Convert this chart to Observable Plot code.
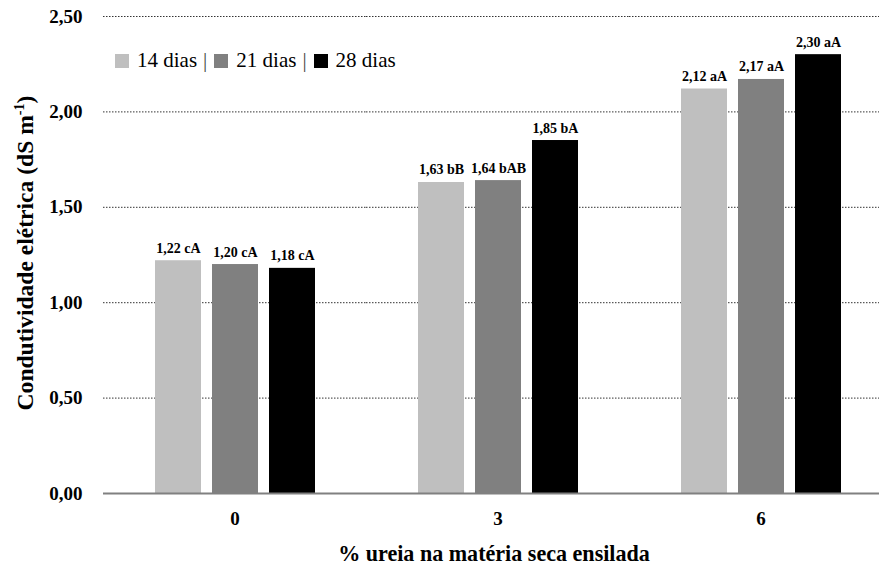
<!DOCTYPE html>
<html>
<head>
<meta charset="utf-8">
<script src="https://cdn.jsdelivr.net/npm/d3@7"></script>
<script src="https://cdn.jsdelivr.net/npm/@observablehq/plot@0.6"></script>
<style>
  body { margin: 0; background: #fff; }
  #wrap { position: relative; width: 879px; height: 565px; }
  #wrap, #wrap svg, #wrap svg text, #legend { font-family: "Liberation Serif", "Times New Roman", serif; }
  #wrap svg text { font-weight: bold; }
  #legend { position: absolute; left: 115px; top: 48px; font-size: 21px; color: #000; display: flex; align-items: center; white-space: nowrap; }
  #legend .sw { display: inline-block; width: 14px; height: 14px; margin-right: 8px; }
  #legend .sep { margin: 0 7px 0 6px; color: #444; }
</style>
</head>
<body>
<div id="wrap"><div id="legend"></div></div>
<script>
const groups = ["0", "3", "6"];
const series = ["14 dias", "21 dias", "28 dias"];
const colors = ["#bfbfbf", "#808080", "#000000"];
const v14 = [1.22, 1.63, 2.12];
const v21 = [1.20, 1.64, 2.17];
const v28 = [1.18, 1.85, 2.30];
const l14 = ["cA", "bB", "aA"];
const l21 = ["cA", "bAB", "aA"];
const l28 = ["cA", "bA", "aA"];
const yTicks = [0, 0.5, 1, 1.5, 2, 2.5];

const vals = [v14, v21, v28];
const lets = [l14, l21, l28];
const rows = [];
groups.forEach((g, gi) => series.forEach((s, si) => rows.push({group: g, series: s, value: vals[si][gi], letter: lets[si][gi]})));
const fmt = v => v.toFixed(2).replace(".", ",");

const chart = Plot.plot({
  width: 879,
  height: 565,
  marginTop: 16,
  marginBottom: 72,
  marginLeft: 102,
  marginRight: -13,
  style: {background: "#fff", overflow: "hidden"},
  fx: {domain: groups, padding: 0},
  x: {domain: series, paddingInner: 0.2, paddingOuter: 0.87, axis: null},
  y: {domain: [0, 2.5]},
  color: {domain: series, range: colors},
  marks: [
    Plot.gridY(yTicks.slice(1), {stroke: "#333", strokeOpacity: 1, strokeDasharray: "1.5,1.5", strokeWidth: 1}),
    Plot.barY(rows, {fx: "group", x: "series", y: "value", fill: "series"}),
    Plot.ruleY([0], {stroke: "#808080", strokeWidth: 2}),
    Plot.text(rows, {fx: "group", x: "series", y: "value", text: d => fmt(d.value) + " " + d.letter, dy: -8, lineAnchor: "bottom", fontSize: 14, fill: "#000"}),
    Plot.axisY(yTicks, {tickSize: 0, tickPadding: 21, fontSize: 19, tickFormat: fmt, label: null, fill: "#000"}),
    Plot.axisFx({anchor: "bottom", tickSize: 0, tickPadding: 18, fontSize: 19, label: null, fill: "#000"})
  ]
});

const wrap = document.getElementById("wrap");
wrap.insertBefore(chart, wrap.firstChild);

const svg = d3.select(chart);

function fit(sel, target, base) {
  const len = sel.node().getComputedTextLength();
  if (len > 0) {
    const f = base * target / len;
    sel.attr("font-size", f);
    sel.selectAll("tspan.sup").attr("font-size", f * 0.6).attr("dy", -f * 0.38);
    sel.selectAll("tspan.back").attr("dy", f * 0.38);
  }
}

const yl = svg.append("text")
  .attr("transform", "translate(33,253) rotate(-90)")
  .attr("text-anchor", "middle")
  .attr("font-size", 20)
  .attr("font-weight", "bold")
  .attr("fill", "#000");
yl.append("tspan").text("Condutividade elétrica (dS m");
yl.append("tspan").attr("class", "sup").attr("font-size", 12).attr("dy", -7.6).text("-1");
yl.append("tspan").attr("class", "back").attr("dy", 7.6).text(")");
fit(yl, 315, 20);

const xl = svg.append("text")
  .attr("x", 494).attr("y", 561)
  .attr("text-anchor", "middle")
  .attr("font-size", 20)
  .attr("font-weight", "bold")
  .attr("fill", "#000")
  .text("% ureia na matéria seca ensilada");
fit(xl, 312, 20);

const legend = d3.select("#legend");
series.forEach((s, i) => {
  if (i > 0) legend.append("span").attr("class", "sep").text("|");
  legend.append("span").attr("class", "sw").style("background", colors[i]);
  legend.append("span").text(s);
});
</script>
</body>
</html>
